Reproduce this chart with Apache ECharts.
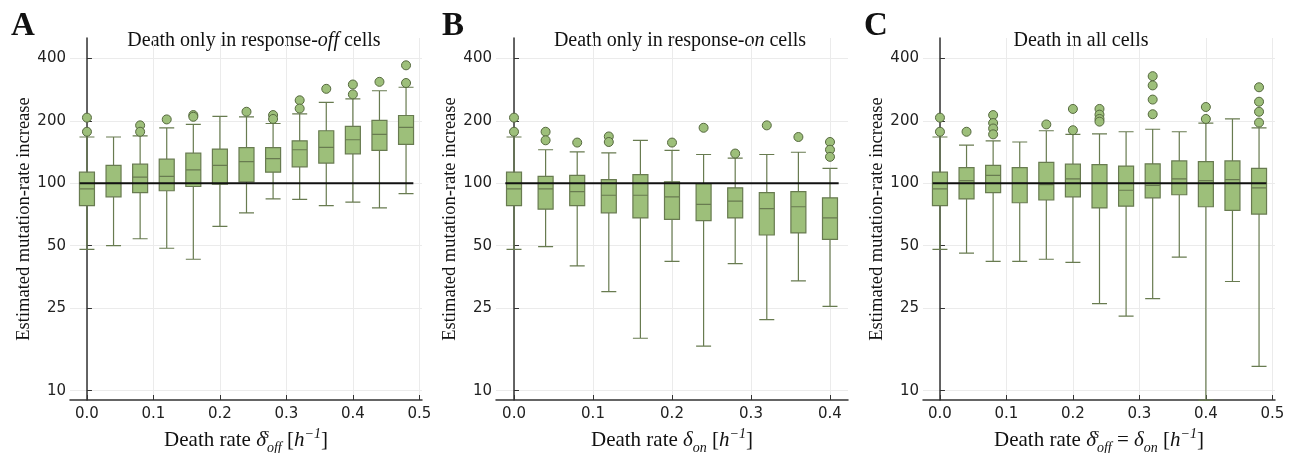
<!DOCTYPE html>
<html>
<head>
<meta charset="utf-8">
<script src="https://cdn.jsdelivr.net/npm/echarts@6/dist/echarts.min.js"></script>
<style>
html, body { margin: 0; padding: 0; background: #fff; }
#main { width: 1295px; height: 453px; }
</style>
</head>
<body>
<div id="main"></div>
<script>
// death rates (x positions of the boxes)
var deathA = [0, 0.04, 0.08, 0.12, 0.16, 0.20, 0.24, 0.28, 0.32, 0.36, 0.40, 0.44, 0.48];
var deathB = [0, 0.04, 0.08, 0.12, 0.16, 0.20, 0.24, 0.28, 0.32, 0.36, 0.40];
var deathC = [0, 0.04, 0.08, 0.12, 0.16, 0.20, 0.24, 0.28, 0.32, 0.36, 0.40, 0.44, 0.48];

// [min, Q1, median, Q3, max]
var boxA = [
    [48, 78, 94, 113, 167],
    [50, 86, 100, 122, 167],
    [54, 90, 107, 123.5, 169],
    [48.6, 92, 108, 130.5, 185],
    [43, 96.4, 116, 139.5, 192],
    [62, 99, 122, 146, 210],
    [72, 101.5, 127, 148.5, 209],
    [84, 113, 131.5, 148.5, 194],
    [83.5, 120, 145, 160, 216],
    [78, 125, 149, 179, 245],
    [81, 138.5, 162, 188, 255],
    [76, 144, 172, 201, 279],
    [89, 154, 186, 212, 290]
];
var outA = [[207, 177], [], [190, 177], [203], [213, 209], [], [221], [213, 204], [251, 229], [285], [299, 268], [308], [370, 304]];

var boxB = [
    [48, 78, 94, 113, 167],
    [49.5, 75, 94, 108, 145],
    [40, 78, 91, 109, 141.6],
    [30, 72, 87.5, 104, 140],
    [17.9, 68, 87.5, 110, 161],
    [42, 67, 86, 101.5, 144],
    [16.4, 66, 79, 99.6, 137.5],
    [41, 68, 82, 95, 132],
    [22, 56.3, 75.5, 90, 137.5],
    [33.8, 57.6, 77, 91, 141],
    [25.5, 53.6, 68, 85, 118]
];
var outB = [[207, 177], [177, 161], [157], [168, 158], [], [157], [185], [139], [190], [167], [158, 145, 134]];

var boxC = [
    [48, 78, 94, 113, 167],
    [46, 84, 103, 119, 152.5],
    [42, 90, 109, 122, 160],
    [42, 80.5, 100, 119, 158],
    [43, 83, 98.5, 126, 179],
    [41.5, 86, 105, 123.5, 172],
    [26.3, 76, 100, 123, 173],
    [22.9, 77.5, 92.5, 121, 177],
    [27.8, 85, 97.5, 124, 182],
    [44, 88, 105, 128, 177],
    [9, 77, 103, 127, 195],
    [33.6, 74, 104, 128, 204],
    [13.1, 71, 95, 118, 185]
];
var outC = [[207, 177], [177], [213, 195, 183.5, 172], [], [192], [228, 180], [228, 214, 204, 198], [], [328, 296, 253, 215], [], [233, 204], [], [290, 247, 221, 196]];

var xTicksAC = [0, 0.1, 0.2, 0.3, 0.4, 0.5];
var xTicksB = [0, 0.1, 0.2, 0.3, 0.4];
var yTicks = [10, 25, 50, 100, 200, 400];
var refValue = 100;
var refA = [-0.011, 0.491];
var refB = [-0.011, 0.411];
var refC = [-0.011, 0.491];

var titles = ['{n|Death only in response-}{i|off}{n| cells}', '{n|Death only in response-}{i|on}{n| cells}', '{n|Death in all cells}'];
var xNames = [
    '{n|Death rate }{i|δ}{sups|s}{sub|off}{n| [}{i|h}{sup|−1}{n|]}',
    '{n|Death rate }{i|δ}{sub|on}{n| [}{i|h}{sup|−1}{n|]}',
    '{n|Death rate }{i|δ}{sups|s}{sub|off}{n| = }{i|δ}{sub|on}{n| [}{i|h}{sup|−1}{n|]}'
];
var yName = 'Estimated mutation-rate increase';

var serif = '"Liberation Serif", "DejaVu Serif", serif';
var sans = '"DejaVu Sans", sans-serif';
var fill = '#9dbf7a';
var edge = '#687b50';

var mathRich = {
    n: {fontFamily: serif, fontSize: 21, color: '#111', lineHeight: 28},
    i: {fontFamily: serif, fontStyle: 'italic', fontSize: 21, color: '#111', lineHeight: 28},
    sup: {fontFamily: serif, fontStyle: 'italic', fontSize: 14, color: '#111', verticalAlign: 'top'},
    sups: {fontFamily: serif, fontStyle: 'italic', fontSize: 14, color: '#111', verticalAlign: 'top', width: 1},
    sub: {fontFamily: serif, fontStyle: 'italic', fontSize: 14, color: '#111', verticalAlign: 'bottom'}
};

function makeX(idx, min, max, ticks) {
    return {
        type: 'value', gridIndex: idx, min: min, max: max,
        name: xNames[idx], nameLocation: 'middle', nameGap: 20,
        nameTextStyle: {rich: mathRich},
        axisLine: {show: true, onZero: false, lineStyle: {color: '#333', width: 1.5}},
        axisTick: {show: true, inside: true, length: 5, customValues: ticks, lineStyle: {color: '#333'}},
        axisLabel: {customValues: ticks, formatter: function (v) { return v.toFixed(1); },
            fontFamily: sans, fontSize: 15, color: '#222', margin: 7},
        splitLine: {show: true, lineStyle: {color: '#ebebeb', width: 1}}
    };
}

function makeY(idx) {
    return {
        type: 'log', logBase: 10, gridIndex: idx, min: 9.02, max: 501,
        name: yName, nameLocation: 'middle', nameGap: 31,
        nameTextStyle: {fontFamily: serif, fontSize: 18.5, color: '#111'},
        axisLine: {show: true, lineStyle: {color: '#333', width: 1.5}},
        axisTick: {show: true, inside: true, length: 5, customValues: yTicks, lineStyle: {color: '#333'}},
        axisLabel: {customValues: yTicks, fontFamily: sans, fontSize: 15, color: '#222', margin: 4},
        splitLine: {show: true, lineStyle: {color: '#ebebeb', width: 1}}
    };
}

function panelSeries(idx, xs, boxes, outs, ref) {
    var boxData = boxes.map(function (b, i) { return [xs[i]].concat(b); });
    var outData = [];
    outs.forEach(function (list, i) {
        list.forEach(function (v) { outData.push([xs[i], v]); });
    });
    return [{
        type: 'boxplot', xAxisIndex: idx, yAxisIndex: idx,
        data: boxData, boxWidth: [15, 15],
        itemStyle: {color: fill, borderColor: edge, borderWidth: 1.2}
    }, {
        type: 'scatter', xAxisIndex: idx, yAxisIndex: idx,
        data: outData, symbol: 'circle', symbolSize: 9,
        itemStyle: {color: fill, borderColor: '#56693f', borderWidth: 1, opacity: 1}
    }, {
        type: 'line', xAxisIndex: idx, yAxisIndex: idx, z: 5,
        data: [[ref[0], refValue], [ref[1], refValue]],
        symbol: 'none', lineStyle: {color: '#111', width: 2}
    }];
}

function label(text, x, y, rich) {
    return {
        type: 'text', x: x, y: y,
        style: {text: text, rich: rich, align: 'center', verticalAlign: 'middle',
            font: 'bold 33px ' + serif, fill: '#111'}
    };
}

var titleRich = {
    n: {fontFamily: serif, fontSize: 20, color: '#111'},
    i: {fontFamily: serif, fontStyle: 'italic', fontSize: 20, color: '#111'}
};

var myChart = echarts.init(document.getElementById('main'));
var option = {
    animation: false,
    backgroundColor: '#fff',
    grid: [
        {left: 70, top: 38, width: 352, height: 362, outerBoundsMode: 'none'},
        {left: 496, top: 38, width: 352, height: 362, outerBoundsMode: 'none'},
        {left: 923, top: 38, width: 352, height: 362, outerBoundsMode: 'none'}
    ],
    xAxis: [
        makeX(0, -0.0255, 0.504, xTicksAC),
        makeX(1, -0.0228, 0.4228, xTicksB),
        makeX(2, -0.0255, 0.504, xTicksAC)
    ],
    yAxis: [makeY(0), makeY(1), makeY(2)],
    series: [].concat(
        panelSeries(0, deathA, boxA, outA, refA),
        panelSeries(1, deathB, boxB, outB, refB),
        panelSeries(2, deathC, boxC, outC, refC)
    ),
    graphic: [
        label('A', 23, 26),
        label('B', 453, 26),
        label('C', 876, 26),
        label(titles[0], 254, 41, titleRich),
        label(titles[1], 680, 41, titleRich),
        label(titles[2], 1081, 41, titleRich)
    ]
};
myChart.setOption(option);
</script>
</body>
</html>
